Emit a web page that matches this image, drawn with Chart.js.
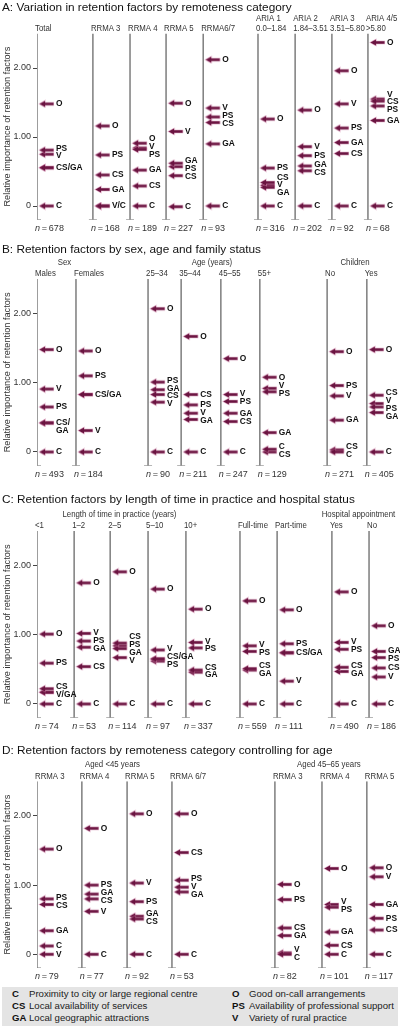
<!DOCTYPE html>
<html>
<head>
<meta charset="utf-8">
<script src="https://cdn.jsdelivr.net/npm/chart.js@4.4.1/dist/chart.umd.min.js"></script>
<style>
  body { margin: 0; background: #fff; width: 400px; font-family: "Liberation Sans", Arial, sans-serif; }
  canvas { display: block; }
  #legend {
    margin: 7px 2px 0 2px; height: 39px; background: #e4e4e4; box-sizing: border-box;
    font-size: 9.6px; line-height: 12.2px; color: #222; position: relative;
  }
  #legend .col { position: absolute; top: 1px; white-space: nowrap; }
  #legend b { display: inline-block; width: 17px; color: #111; }
</style>
</head>
<body>
<canvas id="chartA" width="400" height="244"></canvas>
<canvas id="chartB" width="400" height="249"></canvas>
<canvas id="chartC" width="400" height="253"></canvas>
<canvas id="chartD" width="400" height="234"></canvas>
<div id="legend">
  <div class="col" style="left:10px">
    <div><b>C</b>Proximity to city or large regional centre</div>
    <div><b>CS</b>Local availability of services</div>
    <div><b>GA</b>Local geographic attractions</div>
  </div>
  <div class="col" style="left:230px">
    <div><b>O</b>Good on-call arrangements</div>
    <div><b>PS</b>Availability of professional support</div>
    <div><b>V</b>Variety of rural practice</div>
  </div>
</div>

<script>
// factor order used in every values row below
const factors = ['C', 'CS', 'GA', 'O', 'PS', 'V'];
// order used when two factors share a value and one label
const joinOrder = ['O', 'V', 'CS', 'PS', 'GA', 'C'];

// Panel A
const colsA = ['Total', 'RRMA 3', 'RRMA 4', 'RRMA 5', 'RRMA6/7',
  'ARIA 1\n0.0–1.84', 'ARIA 2\n1.84–3.51', 'ARIA 3\n3.51–5.80', 'ARIA 4/5\n>5.80'];
const nA = [678, 168, 189, 227, 93, 316, 202, 92, 68];
const valsA = [
  [0, 0.555, 0.555, 1.48, 0.81, 0.75],
  [0, 0.45, 0.24, 1.16, 0.74, 0],
  [0, 0.29, 0.52, 0.91, 0.82, 0.84],
  [-0.01, 0.44, 0.62, 1.49, 0.57, 1.08],
  [0, 1.21, 0.90, 2.12, 1.29, 1.42],
  [0, 0.34, 0.27, 1.26, 0.55, 0.30],
  [0, 0.51, 0.58, 1.39, 0.73, 0.86],
  [0, 0.76, 0.92, 1.96, 1.13, 1.48],
  [0, 1.52, 1.24, 2.37, 1.45, 1.55]
];

// Panel B
const colsB = ['Males', 'Females', '25–34', '35–44', '45–55', '55+', 'No', 'Yes'];
const nB = [493, 184, 90, 211, 247, 129, 271, 405];
const valsB = [
  [0, 0.42, 0.42, 1.48, 0.65, 0.91],
  [0, 0.83, 0.83, 1.46, 1.10, 0.31],
  [0, 0.83, 0.90, 2.07, 1.01, 0.72],
  [0, 0.83, 0.47, 1.67, 0.68, 0.56],
  [0, 0.44, 0.56, 1.35, 0.73, 0.83],
  [0.04, 0, 0.28, 1.08, 0.87, 0.92],
  [0, 0.03, 0.46, 1.45, 0.96, 0.81],
  [0, 0.82, 0.57, 1.48, 0.65, 0.70]
];

// Panel C
const colsC = ['<1', '1–2', '2–5', '5–10', '10+', 'Full-time', 'Part-time', 'Yes', 'No'];
const nC = [74, 53, 114, 97, 337, 559, 111, 490, 186];
const valsC = [
  [0, 0.22, 0.17, 1.01, 0.59, 0.17],
  [0, 0.54, 0.82, 1.75, 0.91, 1.02],
  [0, 0.88, 0.80, 1.91, 0.84, 0.67],
  [0, 0.65, 0.65, 1.66, 0.62, 0.78],
  [0, 0.49, 0.46, 1.37, 0.81, 0.89],
  [0, 0.51, 0.49, 1.49, 0.76, 0.84],
  [0, 0.74, 0.74, 1.36, 0.87, 0.33],
  [0, 0.53, 0.47, 1.62, 0.79, 0.89],
  [0, 0.52, 0.76, 1.13, 0.67, 0.39]
];

// Panel D
const colsD = ['RRMA 3', 'RRMA 4', 'RRMA 5', 'RRMA 6/7', 'RRMA 3', 'RRMA 4', 'RRMA 5'];
const nD = [79, 77, 92, 53, 82, 101, 117];
const valsD = [
  [0.12, 0.72, 0.34, 1.52, 0.80, 0],
  [0, 0.80, 0.87, 1.82, 1.00, 0.62],
  [0, 0.51, 0.55, 2.03, 0.76, 1.03],
  [0, 1.47, 0.90, 2.03, 1.07, 0.97],
  [0, 0.38, 0.27, 1.01, 0.79, 0.02],
  [0, 0.13, 0.32, 1.24, 0.68, 0.72],
  [0, 0.35, 0.72, 1.25, 0.52, 1.12]
];

const yTicks = [0, 1, 2];

// arrow drawn right of the image centre, so the centre sits on the column line
function makeArrow() {
  const c = document.createElement('canvas');
  c.width = 44; c.height = 9;
  const g = c.getContext('2d');
  g.beginPath();
  g.moveTo(24.5, 4.5);
  g.lineTo(30, 1.4);
  g.lineTo(30, 3.2);
  g.lineTo(38.5, 3.2);
  g.lineTo(38.5, 5.8);
  g.lineTo(30, 5.8);
  g.lineTo(30, 7.6);
  g.closePath();
  g.strokeStyle = 'rgba(205,125,165,0.7)';
  g.lineWidth = 1.1;
  g.stroke();
  g.fillStyle = '#6a1340';
  g.fill();
  return c;
}
const arrowImg = makeArrow();

// push overlapping labels apart, keeping each cluster centred on its arrows
function spreadLabels(items, lh) {
  const half = lh / 2;
  const blocks = [];
  items.forEach(it => {
    blocks.push({ items: [it], h: it.h, top: it.want - half });
    while (blocks.length > 1) {
      const a = blocks[blocks.length - 2], b = blocks[blocks.length - 1];
      if (a.top + a.h <= b.top) break;
      a.items = a.items.concat(b.items);
      a.h += b.h;
      let off = 0, sum = 0;
      a.items.forEach(x => { sum += x.want - half - off; off += x.h; });
      a.top = sum / a.items.length;
      blocks.pop();
    }
  });
  blocks.forEach(b => {
    let y = b.top;
    b.items.forEach(x => { x.y = y + half; y += x.h; });
  });
}

const FONT = '"Liberation Sans", Arial, sans-serif';
const LH = 7.8;
const NARROW = 0.87;

// the original headers use a condensed face; squeeze the text horizontally
function narrowText(ctx, text, x, y, align) {
  ctx.save();
  ctx.translate(x, y);
  ctx.scale(NARROW, 1);
  ctx.textAlign = align || 'left';
  ctx.fillText(text, 0, 0);
  ctx.restore();
}

const panelText = {
  id: 'panelText',
  afterDraw(chart, args, o) {
    const { ctx, chartArea } = chart;
    const xs = chart.scales.x, ys = chart.scales.y;
    ctx.save();
    ctx.textBaseline = 'middle';
    ctx.textAlign = 'left';
    ctx.fillStyle = '#111';
    ctx.font = '11.8px ' + FONT;
    ctx.fillText(o.title, 2, o.titleY);

    ctx.fillStyle = '#333';
    o.cols.forEach((c, i) => {
      const px = xs.getPixelForValue(o.pos[i]);
      const lines = c.split('\n');
      ctx.font = '9px ' + FONT;
      lines.forEach((ln, j) => {
        narrowText(ctx, ln, px - 2, chartArea.top - 5 - (lines.length - 1 - j) * 9.5);
      });
      const ny = chartArea.bottom + 8.5;
      ctx.font = 'italic 9px ' + FONT;
      ctx.fillText('n', px - 2, ny);
      const w = ctx.measureText('n').width;
      ctx.font = '9px ' + FONT;
      ctx.fillText('\u2009=\u2009' + o.n[i], px - 2 + w, ny);
    });

    ctx.font = '9px ' + FONT;
    (o.groups || []).forEach(g => {
      const a = xs.getPixelForValue(o.pos[g.from]);
      const b = xs.getPixelForValue(o.pos[g.to]);
      narrowText(ctx, g.label, (a + b) / 2 + 8, chartArea.top - 16.5, 'center');
    });

    // factor labels next to the arrows
    ctx.textAlign = 'left';
    ctx.fillStyle = '#111';
    ctx.font = 'bold 8.4px ' + FONT;
    o.vals.forEach((row, i) => {
      const px = xs.getPixelForValue(o.pos[i]);
      const byVal = new Map();
      row.forEach((v, k) => {
        if (!byVal.has(v)) byVal.set(v, []);
        byVal.get(v).push(factors[k]);
      });
      const items = [];
      byVal.forEach((fs, v) => {
        fs.sort((p, q) => joinOrder.indexOf(p) - joinOrder.indexOf(q));
        let lines = [fs.join('/')];
        if (fs.length > 1 && (o.split || []).includes(i)) {
          lines = fs.map((f, j) => j < fs.length - 1 ? f + '/' : f);
        }
        items.push({ lines, want: ys.getPixelForValue(v) + (lines.length - 1) * LH / 2, h: LH * lines.length });
      });
      items.sort((p, q) => p.want - q.want);
      spreadLabels(items, LH);
      items.forEach(it => {
        const top = it.y - (it.lines.length - 1) * LH / 2;
        it.lines.forEach((ln, j) => ctx.fillText(ln, px + 19, top + j * LH));
      });
    });
    ctx.restore();
  }
};

function buildPanel(id, cfg) {
  const datasets = [];
  factors.forEach((f, k) => {
    datasets.push({
      type: 'scatter',
      label: f,
      order: 0,
      data: cfg.vals.map((row, i) => ({ x: cfg.pos[i], y: row[k] })),
      pointStyle: arrowImg,
      pointRadius: 3,
      pointHoverRadius: 3
    });
  });
  cfg.pos.forEach(p => {
    datasets.push({
      type: 'line',
      order: 1,
      data: [{ x: p, y: -0.2 }, { x: p, y: 2.5 }],
      borderColor: '#7d7d7d',
      borderWidth: 1.5,
      pointStyle: 'line',
      pointRadius: [4, 0],
      pointBorderColor: '#7d7d7d',
      pointBorderWidth: 1.3,
      pointHoverRadius: 0
    });
  });

  new Chart(document.getElementById(id), {
    type: 'scatter',
    data: { datasets },
    options: {
      responsive: false,
      animation: false,
      events: [],
      layout: { padding: { top: cfg.top, bottom: cfg.bottom, left: 0, right: 10 } },
      scales: {
        x: { type: 'linear', min: 0, max: 9.6, display: false },
        y: {
          type: 'linear',
          min: -0.2,
          max: 2.5,
          afterBuildTicks: s => { s.ticks = yTicks.map(v => ({ value: v })); },
          afterFit: s => { s.width = 37; },
          border: { display: false },
          grid: { drawOnChartArea: false, tickLength: 4, color: '#444', tickWidth: 1 },
          ticks: {
            padding: 2,
            color: '#333',
            font: { family: FONT, size: 9 },
            callback: v => v === 0 ? '0' : v.toFixed(2)
          },
          title: {
            display: true,
            text: 'Relative importance of retention factors',
            color: '#333',
            font: { family: FONT, size: 9.2 },
            padding: { top: 2, bottom: 0 }
          }
        }
      },
      plugins: {
        legend: { display: false },
        tooltip: { enabled: false },
        panelText: cfg
      }
    },
    plugins: [panelText]
  });
}

buildPanel('chartA', {
  title: 'A: Variation in retention factors by remoteness category',
  titleY: 8, top: 33.5, bottom: 24.2,
  cols: colsA, n: nA, vals: valsA,
  pos: [0, 1.52, 2.53, 3.51, 4.52, 6.01, 7.02, 8.02, 9.0]
});

buildPanel('chartB', {
  title: 'B: Retention factors by sex, age and family status',
  titleY: 6, top: 35, bottom: 27.2,
  cols: colsB, n: nB, vals: valsB, split: [0],
  pos: [0, 1.06, 3.02, 3.92, 5.0, 6.06, 7.89, 8.97],
  groups: [
    { label: 'Sex', from: 0, to: 1 },
    { label: 'Age (years)', from: 2, to: 5 },
    { label: 'Children', from: 6, to: 7 }
  ]
});

buildPanel('chartC', {
  title: 'C: Retention factors by length of time in practice and hospital status',
  titleY: 7, top: 38, bottom: 28.2,
  cols: colsC, n: nC, vals: valsC,
  pos: [0, 1.01, 1.99, 3.02, 4.05, 5.52, 6.53, 8.02, 9.03],
  groups: [
    { label: 'Length of time in practice (years)', from: 0, to: 4 },
    { label: 'Hospital appointment', from: 7, to: 8 }
  ]
});

buildPanel('chartD', {
  title: 'D: Retention factors by remoteness category controlling for age',
  titleY: 5, top: 35.3, bottom: 11.9,
  cols: colsD, n: nD, vals: valsD,
  pos: [0, 1.22, 2.45, 3.67, 6.47, 7.75, 8.97],
  groups: [
    { label: 'Aged <45 years', from: 0, to: 3 },
    { label: 'Aged 45–65 years', from: 4, to: 6 }
  ]
});
</script>
</body>
</html>
